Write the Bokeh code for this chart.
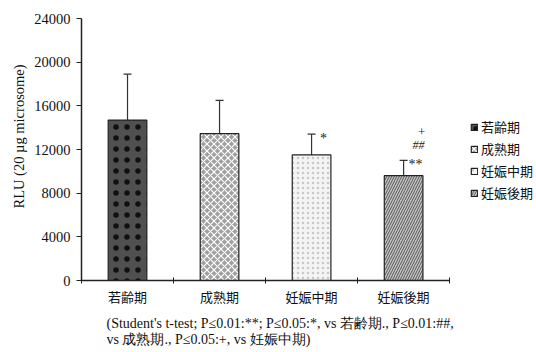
from bokeh.plotting import figure
from bokeh.models import (FixedTicker, Whisker, ColumnDataSource, Legend, LegendItem,
                          Title, Range1d, TeeHead)
from bokeh.core.properties import value
from bokeh.embed import file_html
from bokeh.resources import INLINE

# ---- data ----
categories = ["若齢期", "成熟期", "妊娠中期", "妊娠後期"]
means = [14700, 13450, 11500, 9600]
err_upper = [18900, 16500, 13400, 11000]
y_ticks = [0, 4000, 8000, 12000, 16000, 20000, 24000]
marks_vs_young = ["", "", "*", "**"]
marks_vs_mature = ["", "", "", "##"]
marks_vs_mid = ["", "", "", "+"]
y_label = "RLU (20 µg microsome)"
footnote_1 = "(Student's t-test; P≤0.01:**; P≤0.05:*, vs 若齢期., P≤0.01:##,"
footnote_2 = "vs 成熟期., P≤0.05:+, vs 妊娠中期)"

# ---- styles ----
bar_styles = [
    dict(fill_color="#505050", hatch_pattern="dot", hatch_color="#101010", hatch_scale=11, hatch_weight=2),
    dict(fill_color="#a0a0a0", hatch_pattern="diagonal_cross", hatch_color="#ffffff", hatch_scale=7, hatch_weight=1.2),
    dict(fill_color="#f4f4f4", hatch_pattern="dot", hatch_color="#c8c8c8", hatch_scale=5, hatch_weight=1),
    dict(fill_color="#c4c4c4", hatch_pattern="right_diagonal_line", hatch_color="#555555", hatch_scale=5, hatch_weight=1),
]
SERIF = "Liberation Serif"
CJK = "Noto Sans CJK JP"
n = len(categories)
centers = [i + 0.5 for i in range(n)]

p = figure(width=536, height=352, x_range=Range1d(0, n * 1.236), y_range=Range1d(0, 24000),
           output_backend="svg", toolbar_location=None,
           min_border_left=81, min_border_right=0, min_border_top=18, min_border_bottom=72)
p.outline_line_color = None
p.xgrid.visible = False
p.ygrid.visible = False

renderers = []
for i, cat in enumerate(categories):
    src = ColumnDataSource(dict(x=[centers[i]], top=[means[i]]))
    r = p.vbar(x="x", top="top", width=0.42, bottom=0, source=src,
               line_color="#222222", line_width=1.2, **bar_styles[i])
    renderers.append(r)

wsrc = ColumnDataSource(dict(x=centers, lower=means, upper=err_upper))
p.add_layout(Whisker(base="x", lower="lower", upper="upper", source=wsrc,
                     upper_head=TeeHead(size=8, line_color="#333333", line_width=1.2),
                     lower_head=None, line_color="#333333", line_width=1.2))

# significance marks
tsrc = ColumnDataSource(dict(x=centers, y=err_upper, a=marks_vs_young, b=marks_vs_mature, c=marks_vs_mid))
p.text(x="x", y="y", text="a", source=tsrc, x_offset=12, y_offset=4, text_align="center",
       text_baseline="middle", text_font=value(SERIF), text_font_size="14px", text_color="#222222")
p.text(x="x", y="y", text="b", source=tsrc, x_offset=15, y_offset=-15, text_align="center",
       text_baseline="middle", text_font=value(SERIF), text_font_size="12px", text_font_style="italic",
       text_color="#222222")
p.text(x="x", y="y", text="c", source=tsrc, x_offset=18, y_offset=-28, text_align="center",
       text_baseline="middle", text_font=value(SERIF), text_font_size="13px", text_color="#222222")

# y axis
ya = p.yaxis[0]
ya.ticker = FixedTicker(ticks=y_ticks)
ya.minor_tick_line_color = None
ya.major_tick_in = 0
ya.major_tick_out = 5
ya.axis_line_width = 1.5
ya.axis_line_color = "#222222"
ya.major_tick_line_color = "#222222"
ya.major_label_text_font = SERIF
ya.major_label_text_font_size = "14.5px"
ya.major_label_text_color = "#111111"
ya.major_label_standoff = 6

p.add_layout(Title(text=y_label, align="left", offset=72, standoff=9, text_font=SERIF,
                   text_font_size="14.5px", text_font_style="normal", text_color="#111111"), "left")

# x axis
xa = p.xaxis[0]
xa.bounds = (0, n)
xa.ticker = FixedTicker(ticks=centers, minor_ticks=list(range(n + 1)))
xa.major_label_overrides = {c: cat for c, cat in zip(centers, categories)}
xa.major_tick_line_color = None
xa.minor_tick_line_color = "#222222"
xa.minor_tick_in = 3
xa.minor_tick_out = 3
xa.axis_line_width = 1.5
xa.axis_line_color = "#222222"
xa.major_label_text_font = CJK
xa.major_label_text_font_size = "13px"
xa.major_label_text_color = "#111111"
xa.major_label_standoff = 0

# legend
legend = Legend(items=[LegendItem(label=c, renderers=[r]) for c, r in zip(categories, renderers)],
                location=(389, 78), glyph_width=8, glyph_height=8, label_height=14, label_standoff=3,
                spacing=3, padding=0, margin=0, border_line_color=None, background_fill_alpha=0,
                label_text_font=CJK, label_text_font_size="13px", label_text_color="#111111")
p.add_layout(legend)

# footnote (two lines)
p.add_layout(Title(text=footnote_1 + "\n" + footnote_2, align="left", offset=25, standoff=11,
                   text_font=SERIF, text_font_size="14px", text_font_style="normal",
                   text_line_height=1.05, text_color="#111111"), "below")

open("out.html", "w").write(file_html(p, INLINE))
